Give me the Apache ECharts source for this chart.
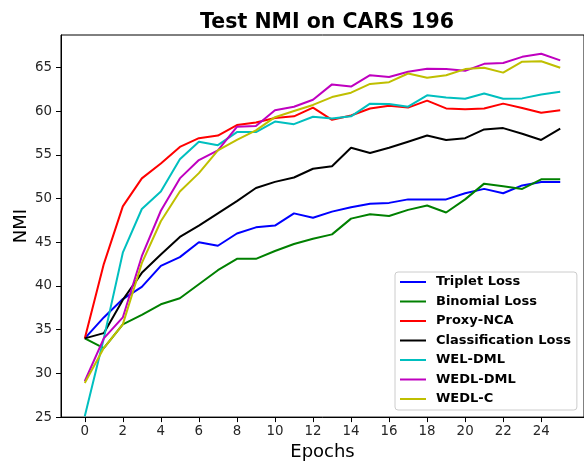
<!DOCTYPE html>
<html>
<head>
<meta charset="utf-8">
<title>Test NMI on CARS 196</title>
<script src="https://cdn.jsdelivr.net/npm/echarts@6/dist/echarts.min.js"></script>
<style>
  html, body { margin: 0; padding: 0; background: #fff; }
  #chart { width: 584px; height: 466px; }
</style>
</head>
<body>
<div id="chart"></div>
<script>
// epochs on the x axis
const epochs = [0, 1, 2, 3, 4, 5, 6, 7, 8, 9, 10, 11, 12, 13, 14, 15, 16, 17, 18, 19, 20, 21, 22, 23, 24, 25];
const xTicks = [0, 2, 4, 6, 8, 10, 12, 14, 16, 18, 20, 22, 24];
const yTicks = [25, 30, 35, 40, 45, 50, 55, 60, 65];

// NMI values
const tripletLoss = [34.0, 36.4, 38.5, 39.9, 42.3, 43.3, 45.0, 44.6, 46.0, 46.7, 46.9, 48.3, 47.8, 48.5, 49.0, 49.4, 49.5, 49.9, 49.9, 49.9, 50.6, 51.1, 50.6, 51.5, 51.9, 51.9];
const binomialLoss = [34.0, 32.9, 35.6, 36.7, 37.9, 38.6, 40.2, 41.8, 43.1, 43.1, 44.0, 44.8, 45.4, 45.9, 47.7, 48.2, 48.0, 48.7, 49.2, 48.4, 49.9, 51.7, 51.4, 51.1, 52.2, 52.2];
const proxyNca = [34.0, 42.5, 49.1, 52.3, 54.0, 55.9, 56.9, 57.2, 58.4, 58.7, 59.2, 59.4, 60.4, 59.0, 59.5, 60.3, 60.6, 60.4, 61.2, 60.3, 60.2, 60.3, 60.85, 60.35, 59.8, 60.1];
const classificationLoss = [34.0, 34.6, 38.4, 41.5, 43.6, 45.6, 46.9, 48.3, 49.7, 51.2, 51.9, 52.4, 53.4, 53.7, 55.8, 55.2, 55.8, 56.5, 57.2, 56.7, 56.9, 57.9, 58.05, 57.4, 56.7, 58.0];
const welDml = [25.1, 34.0, 43.8, 48.8, 50.8, 54.5, 56.5, 56.1, 57.6, 57.6, 58.8, 58.5, 59.35, 59.15, 59.4, 60.85, 60.8, 60.5, 61.8, 61.55, 61.4, 62.0, 61.4, 61.45, 61.9, 62.2];
const wedlDml = [29.1, 34.0, 36.4, 43.4, 48.6, 52.3, 54.4, 55.5, 58.2, 58.3, 60.1, 60.5, 61.3, 63.05, 62.8, 64.1, 63.9, 64.5, 64.85, 64.8, 64.6, 65.4, 65.5, 66.2, 66.55, 65.8];
const wedlC = [28.9, 32.9, 35.6, 42.6, 47.4, 50.8, 52.9, 55.5, 56.7, 57.8, 59.3, 60.0, 60.7, 61.6, 62.1, 63.1, 63.3, 64.3, 63.8, 64.1, 64.8, 64.95, 64.4, 65.65, 65.7, 64.95];

const seriesNames = ["Triplet Loss", "Binomial Loss", "Proxy-NCA", "Classification Loss", "WEL-DML", "WEDL-DML", "WEDL-C"];
const seriesValues = [tripletLoss, binomialLoss, proxyNca, classificationLoss, welDml, wedlDml, wedlC];
const seriesColors = ["#0000ff", "#008000", "#ff0000", "#000000", "#00bfbf", "#bf00bf", "#bfbf00"];

const chart = echarts.init(document.getElementById("chart"));

const font = "DejaVu Sans";

chart.setOption({
  animation: false,
  backgroundColor: "#fff",
  title: {
    text: "Test NMI on CARS 196",
    left: 322,
    top: 7,
    textAlign: "center",
    textStyle: { fontFamily: font, fontSize: 20.5, fontWeight: "bold", color: "#000" }
  },
  grid: {
    left: 61,
    right: -1,
    top: 35,
    bottom: 48.5,
    show: true,
    borderColor: "#000",
    borderWidth: 1,
    backgroundColor: "transparent"
  },
  legend: {
    orient: "vertical",
    left: 395,
    top: 272,
    padding: [3, 6, 4, 5],
    itemGap: 5.5,
    itemWidth: 26,
    itemHeight: 2,
    icon: "rect",
    backgroundColor: "#fff",
    borderColor: "#cccccc",
    borderWidth: 1,
    borderRadius: 3,
    textStyle: {
      fontFamily: font,
      fontSize: 13,
      fontWeight: "bold",
      color: "#000",
      lineHeight: 14,
      padding: [0, 0, 0, 5]
    },
    data: seriesNames
  },
  xAxis: {
    type: "value",
    min: -1.25,
    max: 26.25,
    name: "Epochs",
    nameLocation: "middle",
    nameGap: 24,
    nameTextStyle: { fontFamily: font, fontSize: 18, color: "#000" },
    axisLine: { show: true, onZero: false, lineStyle: { color: "#000", width: 1 } },
    axisTick: { show: true, length: 5, customValues: xTicks, lineStyle: { color: "#000" } },
    axisLabel: { customValues: xTicks, margin: 8, fontFamily: font, fontSize: 13.4, color: "#262626" },
    splitLine: { show: false }
  },
  yAxis: {
    type: "value",
    min: 25,
    max: 68.7,
    name: "NMI",
    nameLocation: "middle",
    nameGap: 31,
    nameMoveOverlap: false,
    nameTextStyle: { fontFamily: font, fontSize: 18, color: "#000" },
    axisLine: { show: true, onZero: false, lineStyle: { color: "#000", width: 1 } },
    axisTick: { show: true, length: 5, customValues: yTicks, lineStyle: { color: "#000" } },
    axisLabel: { customValues: yTicks, margin: 9, fontFamily: font, fontSize: 13.4, color: "#262626" },
    splitLine: { show: false }
  },
  series: seriesNames.map((name, i) => ({
    name: name,
    type: "line",
    symbol: "none",
    color: seriesColors[i],
    lineStyle: { width: 2, color: seriesColors[i] },
    data: epochs.map((e, j) => [e, seriesValues[i][j]])
  }))
});
</script>
</body>
</html>
